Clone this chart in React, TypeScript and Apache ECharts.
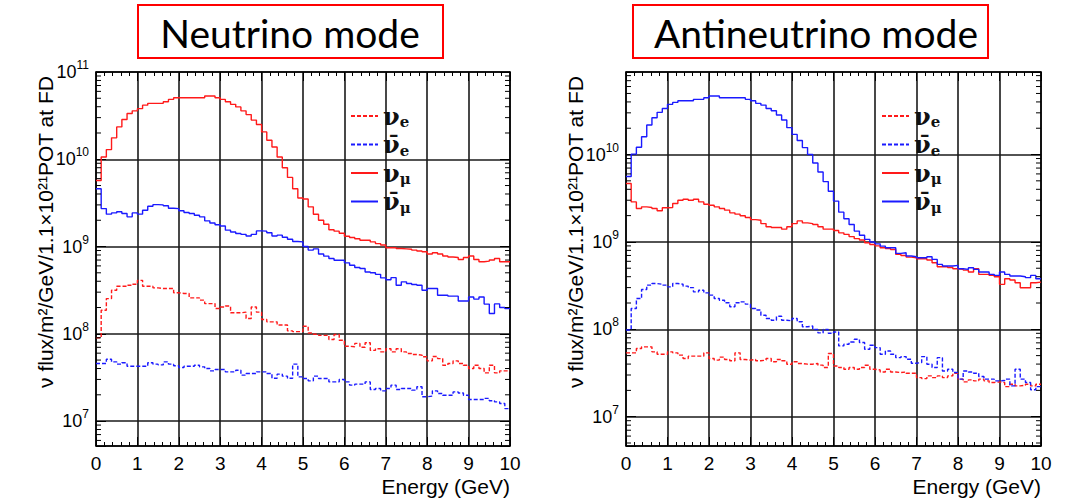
import React, { useEffect, useRef } from "react";
import * as echarts from "echarts";

// ---------- data (0.125 GeV bins, 0–10 GeV) ----------
const BIN_WIDTH_GEV = 0.125;
const SERIES_NAMES = ["νe", "ν̄e", "νμ", "ν̄μ"];
const PANEL_TITLES = ["Neutrino mode", "Antineutrino mode"];
const X_AXIS_TITLE = "Energy (GeV)";
const Y_AXIS_TITLE = "ν flux/m²/GeV/1.1×10²¹POT at FD";

// Neutrino mode
const nuMode_nue = [
  9e7, 1.86e8, 2.53e8, 3.16e8, 3.5e8, 3.5e8, 3.6e8, 3.7e8, 4.1e8, 3.5e8,
  3.5e8, 3.36e8, 3.3e8, 3.3e8, 3.3e8, 2.95e8, 2.9e8, 2.9e8, 2.58e8, 2.58e8,
  2.43e8, 2.22e8, 2.22e8, 1.95e8, 2.03e8, 2.08e8, 1.74e8, 1.74e8, 1.77e8, 1.5e8,
  2.03e8, 1.77e8, 1.46e8, 1.37e8, 1.37e8, 1.26e8, 1.26e8, 1.08e8, 1.06e8, 1.06e8,
  1.22e8, 1.02e8, 9.9e7, 9.6e7, 9.6e7, 8.6e7, 9.8e7, 8.45e7, 7.2e7, 7.1e7,
  7.76e7, 7.0e7, 7.9e7, 6.45e7, 6.75e7, 6.2e7, 6.75e7, 6.2e7, 6.75e7, 6.2e7,
  5.95e7, 5.8e7, 5.7e7, 5.45e7, 4.9e7, 5.5e7, 5.2e7, 4.37e7, 4.57e7, 4.9e7,
  4.57e7, 4.37e7, 4.0e7, 4.37e7, 4.0e7, 3.57e7, 4.37e7, 3.57e7, 3.76e7, 3.76e7,
];
const nuMode_nuebar = [
  4.57e7, 4.57e7, 5.1e7, 4.77e7, 4.49e7, 4.65e7, 4.25e7, 4.25e7, 4.25e7, 4.25e7,
  4.65e7, 4.49e7, 4.4e7, 4.77e7, 4.49e7, 4.3e7, 4.11e7, 4.25e7, 4.25e7, 4.37e7,
  4.18e7, 4.0e7, 3.76e7, 3.9e7, 3.9e7, 3.66e7, 3.66e7, 3.83e7, 3.36e7, 3.51e7,
  3.51e7, 3.66e7, 3.66e7, 3.51e7, 3.09e7, 3.45e7, 3.27e7, 3.09e7, 4.49e7, 3.21e7,
  3.07e7, 2.89e7, 3.27e7, 3.07e7, 3.07e7, 2.81e7, 2.81e7, 2.99e7, 2.81e7, 2.58e7,
  2.65e7, 2.65e7, 2.81e7, 2.3e7, 2.36e7, 2.22e7, 2.36e7, 2.58e7, 2.3e7, 2.36e7,
  2.36e7, 2.26e7, 2.47e7, 1.9e7, 1.93e7, 2.22e7, 2.07e7, 1.98e7, 1.98e7, 2.16e7,
  2.1e7, 1.98e7, 1.77e7, 1.77e7, 1.77e7, 1.82e7, 1.71e7, 1.66e7, 1.59e7, 1.39e7,
];
const nuMode_numu = [
  5.7e9, 1.06e10, 1.29e10, 1.76e10, 2.35e10, 2.86e10, 3.35e10, 3.59e10, 3.8e10, 4.17e10,
  4.37e10, 4.37e10, 4.37e10, 4.57e10, 4.85e10, 5.07e10, 5.07e10, 5.07e10, 5.07e10, 5.07e10,
  5.07e10, 5.3e10, 5.3e10, 5.07e10, 4.85e10, 4.57e10, 4.26e10, 3.98e10, 3.59e10, 3.25e10,
  2.81e10, 2.5e10, 2.06e10, 1.65e10, 1.38e10, 1.06e10, 8.0e9, 6.2e9, 4.6e9, 3.6e9,
  3.5e9, 2.85e9, 2.34e9, 2.0e9, 1.8e9, 1.56e9, 1.5e9, 1.42e9, 1.31e9, 1.27e9,
  1.23e9, 1.18e9, 1.18e9, 1.13e9, 1.08e9, 1.04e9, 9.7e8, 9.7e8, 9.5e8, 9.4e8,
  9.3e8, 9.1e8, 8.9e8, 8.7e8, 8.2e8, 8.5e8, 8.2e8, 7.8e8, 7.6e8, 7.5e8,
  7.1e8, 7.5e8, 7.8e8, 7.1e8, 6.7e8, 6.8e8, 7.0e8, 7.3e8, 6.7e8, 6.7e8,
];
const nuMode_numubar = [
  4.6e9, 2.72e9, 2.35e9, 2.43e9, 2.5e9, 2.39e9, 2.19e9, 2.43e9, 2.35e9, 2.6e9,
  2.89e9, 3.02e9, 3.0e9, 2.93e9, 2.75e9, 2.72e9, 2.57e9, 2.45e9, 2.39e9, 2.28e9,
  2.19e9, 1.97e9, 1.86e9, 1.78e9, 1.72e9, 1.54e9, 1.47e9, 1.41e9, 1.38e9, 1.32e9,
  1.38e9, 1.51e9, 1.5e9, 1.44e9, 1.32e9, 1.35e9, 1.28e9, 1.21e9, 1.14e9, 1.13e9,
  1.0e9, 9.1e8, 9.4e8, 8.2e8, 7.76e8, 7.3e8, 6.97e8, 6.97e8, 6.5e8, 6.1e8,
  5.75e8, 5.6e8, 5.1e8, 5.0e8, 4.8e8, 4.37e8, 4.17e8, 4.4e8, 3.6e8, 3.94e8,
  3.77e8, 3.67e8, 3.6e8, 3.16e8, 3.3e8, 3.3e8, 2.77e8, 2.77e8, 2.7e8, 2.7e8,
  2.38e8, 2.38e8, 2.64e8, 2.5e8, 2.64e8, 2.19e8, 1.71e8, 2.2e8, 2.0e8, 1.95e8,
];

// Antineutrino mode
const anuMode_nue = [
  5.38e7, 5.38e7, 6.03e7, 6.3e7, 6.3e7, 5.52e7, 5.19e7, 5.19e7, 5.52e7, 5.38e7,
  5.06e7, 4.63e7, 4.93e7, 4.93e7, 4.93e7, 5.38e7, 4.63e7, 4.44e7, 4.8e7, 4.52e7,
  4.36e7, 5.38e7, 4.52e7, 4.44e7, 4.52e7, 4.36e7, 4.44e7, 4.63e7, 4.25e7, 4.52e7,
  4.36e7, 3.99e7, 4.25e7, 4.06e7, 3.99e7, 3.99e7, 4.06e7, 3.89e7, 3.66e7, 5.29e7,
  3.81e7, 3.65e7, 3.49e7, 3.65e7, 3.49e7, 3.65e7, 3.88e7, 3.49e7, 3.43e7, 3.25e7,
  3.49e7, 3.25e7, 3.2e7, 3.25e7, 3.14e7, 3.14e7, 2.8e7, 2.73e7, 2.93e7, 2.8e7,
  2.93e7, 2.8e7, 2.93e7, 3.14e7, 2.69e7, 2.5e7, 2.64e7, 2.57e7, 2.69e7, 2.57e7,
  2.46e7, 2.5e7, 2.46e7, 2.21e7, 2.35e7, 2.25e7, 2.29e7, 2.35e7, 2.25e7, 2.35e7,
];
const anuMode_nuebar = [
  9.8e7, 1.73e8, 2.25e8, 2.85e8, 3.2e8, 3.34e8, 3.28e8, 3.2e8, 3.06e8, 3.34e8,
  3.28e8, 3.12e8, 3.0e8, 2.68e8, 2.8e8, 2.61e8, 2.46e8, 2.25e8, 2.15e8, 2.01e8,
  1.81e8, 2.01e8, 2.06e8, 1.94e8, 1.73e8, 1.66e8, 1.45e8, 1.33e8, 1.27e8, 1.41e8,
  1.27e8, 1.25e8, 1.33e8, 1.22e8, 1.07e8, 1.09e8, 9.95e7, 9.1e7, 9.95e7, 9.0e7,
  9.33e7, 6.46e7, 6.75e7, 7.17e7, 7.69e7, 7.05e7, 5.91e7, 6.56e7, 6.17e7, 5.18e7,
  5.65e7, 5.18e7, 4.74e7, 4.87e7, 4.54e7, 4.09e7, 4.16e7, 4.87e7, 3.98e7, 3.65e7,
  4.74e7, 3.34e7, 3.49e7, 3.2e7, 2.69e7, 3.34e7, 3.25e7, 3.14e7, 2.88e7, 2.69e7,
  2.69e7, 2.57e7, 2.6e7, 2.69e7, 2.25e7, 3.49e7, 2.69e7, 2.46e7, 2.03e7, 2.21e7,
];
const anuMode_numu = [
  4.66e9, 2.87e9, 2.41e9, 2.52e9, 2.48e9, 2.41e9, 2.27e9, 2.46e9, 2.48e9, 2.75e9,
  3.0e9, 3.08e9, 3.0e9, 3.08e9, 2.87e9, 2.7e9, 2.63e9, 2.52e9, 2.41e9, 2.31e9,
  2.15e9, 2.08e9, 1.99e9, 1.9e9, 1.8e9, 1.77e9, 1.62e9, 1.49e9, 1.46e9, 1.46e9,
  1.4e9, 1.49e9, 1.62e9, 1.74e9, 1.65e9, 1.62e9, 1.58e9, 1.49e9, 1.4e9, 1.4e9,
  1.35e9, 1.27e9, 1.22e9, 1.15e9, 1.09e9, 1.05e9, 9.8e8, 9.36e8, 9.0e8, 8.58e8,
  8.4e8, 8.2e8, 7.2e8, 7.0e8, 6.7e8, 6.59e8, 6.42e8, 6.42e8, 6.2e8, 5.78e8,
  5.2e8, 5.2e8, 5.1e8, 4.93e8, 4.85e8, 4.76e8, 4.52e8, 4.93e8, 4.25e8, 4.25e8,
  4.14e8, 4.0e8, 3.27e8, 3.79e8, 3.66e8, 3.41e8, 2.99e8, 2.99e8, 3.41e8, 3.47e8,
];
const anuMode_numubar = [
  5.6e9, 1.01e10, 1.21e10, 1.6e10, 2.18e10, 2.64e10, 3.04e10, 3.37e10, 3.75e10, 3.95e10,
  4.13e10, 4.13e10, 4.13e10, 4.28e10, 4.28e10, 4.47e10, 4.67e10, 4.67e10, 4.47e10, 4.47e10,
  4.47e10, 4.47e10, 4.47e10, 4.28e10, 4.13e10, 3.85e10, 3.68e10, 3.37e10, 3.17e10, 2.83e10,
  2.48e10, 2.03e10, 1.7e10, 1.45e10, 1.2e10, 1.0e10, 8.0e9, 6.3e9, 4.9e9, 3.8e9,
  2.93e9, 2.19e9, 1.84e9, 1.58e9, 1.33e9, 1.19e9, 1.07e9, 9.96e8, 9.5e8, 8.96e8,
  8.58e8, 8.58e8, 7.39e8, 7.52e8, 6.89e8, 6.77e8, 6.59e8, 6.59e8, 6.77e8, 6.31e8,
  5.53e8, 5.3e8, 5.3e8, 5.39e8, 4.93e8, 4.85e8, 5.07e8, 4.85e8, 4.52e8, 4.52e8,
  4.25e8, 4.14e8, 4.52e8, 4.25e8, 4.07e8, 4.07e8, 4.0e8, 3.9e8, 4.14e8, 3.79e8,
];

// axis ranges
const X_MIN = 0;
const X_MAX = 10;
const Y_RANGES = [
  [5.18e6, 1e11],
  [4.62e6, 8.8e10],
];

// ---------- helpers ----------
const RED = "#ff1a1a";
const BLUE = "#1a1aff";

function histPoints(values: number[]) {
  const pts = values.map((v, i) => [i * BIN_WIDTH_GEV, v]);
  pts.push([values.length * BIN_WIDTH_GEV, values[values.length - 1]]);
  return pts;
}

function minorLogValues(min: number, max: number) {
  const out: number[][] = [];
  for (let e = 5; e <= 11; e++) {
    for (let k = 2; k <= 9; k++) {
      const v = k * Math.pow(10, e);
      if (v > min && v < max) out.push([X_MIN, v]);
    }
  }
  return out;
}

const legendLabel: Record<string, string> = {
  "νe": "{nu|ν}{sub|e}",
  "ν̄e": "{nu|ν̄}{sub|e}",
  "νμ": "{nu|ν}{sub|μ}",
  "ν̄μ": "{nu|ν̄}{sub|μ}",
};

const GRIDS = [
  { left: 96, top: 72, width: 414, height: 374 },
  { left: 626, top: 72, width: 415, height: 374 },
];

const AXIS_FONT = "Liberation Sans, Arial, sans-serif";
const LEGEND_FONT = "'DejaVu Serif', 'Liberation Serif', serif";

export default function App() {
  const ref = useRef<HTMLDivElement>(null);

  useEffect(() => {
    if (!ref.current) return;
    const chart = echarts.init(ref.current, undefined, { renderer: "svg" });

    const panels = [
      [nuMode_nue, nuMode_nuebar, nuMode_numu, nuMode_numubar],
      [anuMode_nue, anuMode_nuebar, anuMode_numu, anuMode_numubar],
    ];

    const xAxes: any[] = [];
    const yAxes: any[] = [];
    const series: any[] = [];

    GRIDS.forEach((_, gi) => {
      const xBase = {
        type: "value",
        gridIndex: gi,
        min: X_MIN,
        max: X_MAX,
        interval: 1,
        axisLine: { show: true, onZero: false, lineStyle: { color: "#000", width: 1.5 } },
        axisTick: { show: true, inside: true, length: 9, lineStyle: { color: "#000", width: 1 } },
        minorTick: { show: true, splitNumber: 5, length: 4, lineStyle: { color: "#000", width: 1 } },
      };
      xAxes.push({
        ...xBase,
        position: "bottom",
        axisLabel: {
          show: true,
          margin: 8,
          color: "#000",
          fontSize: 19,
          fontFamily: AXIS_FONT,
        },
        splitLine: { show: true, lineStyle: { color: "#1a1a1a", width: 1.6 } },
        name: X_AXIS_TITLE,
        nameLocation: "end",
        nameGap: 0,
        nameTextStyle: {
          color: "#000",
          fontSize: 21,
          fontFamily: AXIS_FONT,
          align: "right",
          verticalAlign: "top",
          padding: [30, 0, 0, 0],
        },
      });
      xAxes.push({
        ...xBase,
        position: "top",
        axisLabel: { show: false },
        splitLine: { show: false },
      });

      const [ymin, ymax] = Y_RANGES[gi];
      const yBase = {
        type: "log",
        logBase: 10,
        gridIndex: gi,
        min: ymin,
        max: ymax,
        axisLine: { show: true, onZero: false, lineStyle: { color: "#000", width: 1.5 } },
        axisTick: { show: true, inside: true, length: 10, lineStyle: { color: "#000", width: 1 } },
      };
      yAxes.push({
        ...yBase,
        position: "left",
        axisLabel: {
          show: true,
          margin: 7,
          color: "#000",
          fontFamily: AXIS_FONT,
          formatter: (v: number) => {
            const lg = Math.log10(v);
            const e = Math.round(lg);
            if (Math.abs(lg - e) > 1e-6) return "";
            return `{b|10}{s|${e}}`;
          },
          rich: {
            b: { fontSize: 18, lineHeight: 26, fontFamily: AXIS_FONT, color: "#000" },
            s: { fontSize: 12, lineHeight: 12, verticalAlign: "top", fontFamily: AXIS_FONT, color: "#000" },
          },
        },
        splitLine: { show: true, lineStyle: { color: "#1a1a1a", width: 1.6 } },
      });
      yAxes.push({
        ...yBase,
        position: "right",
        axisLabel: { show: false },
        splitLine: { show: false },
      });

      const xIdx = gi * 2;
      const yIdx = gi * 2;
      const data = panels[gi];
      const styles = [
        { color: RED, type: [4, 2] },
        { color: BLUE, type: [4, 2] },
        { color: RED, type: "solid" },
        { color: BLUE, type: "solid" },
      ];
      SERIES_NAMES.forEach((name, si) => {
        series.push({
          name,
          type: "line",
          xAxisIndex: xIdx,
          yAxisIndex: yIdx,
          step: "end",
          symbol: "none",
          showSymbol: false,
          silent: true,
          clip: true,
          z: 3 + si,
          itemStyle: { color: styles[si].color },
          lineStyle: { color: styles[si].color, width: 1.4, type: styles[si].type },
          data: histPoints(data[si]),
        });
      });

      // minor log ticks on left & right frame
      series.push({
        type: "custom",
        name: "minorTicks" + gi,
        xAxisIndex: xIdx,
        yAxisIndex: yIdx,
        silent: true,
        z: 10,
        data: minorLogValues(ymin, ymax),
        renderItem: (params: any, api: any) => {
          const v = api.value(1);
          const a = api.coord([X_MIN, v]);
          const b = api.coord([X_MAX, v]);
          return {
            type: "group",
            children: [
              { type: "line", shape: { x1: a[0], y1: a[1], x2: a[0] + 5, y2: a[1] }, style: { stroke: "#000", lineWidth: 1 } },
              { type: "line", shape: { x1: b[0] - 5, y1: b[1], x2: b[0], y2: b[1] }, style: { stroke: "#000", lineWidth: 1 } },
            ],
          };
        },
      });
    });

    const legendBase = {
      data: SERIES_NAMES,
      orient: "vertical",
      top: 104,
      padding: 0,
      itemWidth: 27,
      itemHeight: 14,
      itemGap: 3,
      selectedMode: false,
      itemStyle: { opacity: 0 },
      formatter: (n: string) => legendLabel[n],
      textStyle: {
        rich: {
          nu: { fontFamily: LEGEND_FONT, fontSize: 24, fontWeight: "bold", color: "#111", lineHeight: 27 },
          sub: { fontFamily: LEGEND_FONT, fontSize: 15, fontWeight: "bold", color: "#111", lineHeight: 15, verticalAlign: "bottom" },
        },
      },
    };

    const titleBoxes = [
      { x: 138, y: 5, w: 305, h: 53, cx: 290, text: PANEL_TITLES[0] },
      { x: 633, y: 5, w: 355, h: 53, cx: 816, text: PANEL_TITLES[1] },
    ];

    const graphic: any[] = [];
    titleBoxes.forEach((t) => {
      graphic.push({
        type: "rect",
        shape: { x: t.x, y: t.y, width: t.w, height: t.h },
        style: { fill: "transparent", stroke: "#ff0000", lineWidth: 2 },
      });
      graphic.push({
        type: "text",
        x: t.cx,
        y: t.y + t.h / 2 + 1,
        style: {
          text: t.text,
          fontFamily: "Lato, 'Open Sans', sans-serif",
          fontSize: 39,
          fill: "#000",
          align: "center",
          verticalAlign: "middle",
        },
      });
    });
    [45, 575].forEach((x) => {
      graphic.push({
        type: "text",
        x,
        y: 232,
        rotation: Math.PI / 2,
        style: {
          text: Y_AXIS_TITLE,
          fontFamily: AXIS_FONT,
          fontSize: 21,
          fill: "#000",
          align: "center",
          verticalAlign: "middle",
        },
      });
    });

    chart.setOption({
      animation: false,
      backgroundColor: "#fff",
      grid: GRIDS.map((g) => ({ ...g, containLabel: false })),
      xAxis: xAxes,
      yAxis: yAxes,
      legend: [
        { ...legendBase, left: 350 },
        { ...legendBase, left: 881 },
      ],
      graphic,
      series,
    });

    return () => chart.dispose();
  }, []);

  return (
    <div
      ref={ref}
      style={{ position: "absolute", left: 0, top: 0, width: 1073, height: 500 }}
    />
  );
}
